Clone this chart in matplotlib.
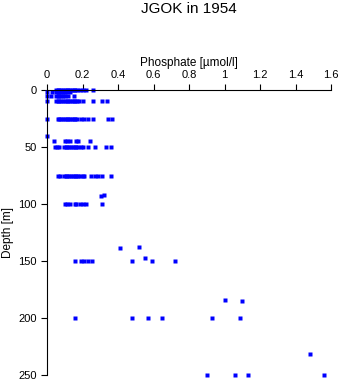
import numpy as np
import matplotlib
matplotlib.use("Agg")
import matplotlib.pyplot as plt
from matplotlib.ticker import FuncFormatter

plt.rcParams['font.family'] = ['Liberation Sans', 'DejaVu Sans']

# phosphate readings [umol/l] grouped by sampling depth [m]
d0 = [0.05, 0.06, 0.07, 0.08, 0.09, 0.10, 0.11, 0.12, 0.13, 0.14, 0.15, 0.16,
      0.17, 0.185, 0.20, 0.22, 0.26]
d2 = [0.0, 0.03, 0.05, 0.06, 0.07, 0.08, 0.09, 0.10, 0.11, 0.13]
d5 = [0.0, 0.02, 0.05, 0.06, 0.07, 0.08, 0.09, 0.10, 0.12, 0.15]
d10 = [0.0, 0.05, 0.06, 0.07, 0.08, 0.09, 0.10, 0.11, 0.12, 0.13, 0.14, 0.15,
       0.16, 0.17, 0.18, 0.20, 0.26, 0.31, 0.34]
d25 = [0.0, 0.06, 0.07, 0.08, 0.09, 0.10, 0.11, 0.12, 0.13, 0.14, 0.15, 0.16,
       0.17, 0.19, 0.21, 0.23, 0.26, 0.345, 0.365]
d40 = [0.0]
d45 = [0.04, 0.10, 0.11, 0.13, 0.165, 0.175, 0.24]
d50 = [0.045, 0.055, 0.065, 0.095, 0.105, 0.115, 0.125, 0.135, 0.145, 0.155,
       0.165, 0.175, 0.19, 0.20, 0.23, 0.27, 0.33, 0.36]
d75 = [0.06, 0.075, 0.095, 0.105, 0.115, 0.125, 0.135, 0.145, 0.155, 0.165,
       0.175, 0.185, 0.20, 0.21, 0.25, 0.27, 0.29, 0.31, 0.36]
d92 = [0.32]
d93 = [0.305]
d100 = [0.10, 0.11, 0.13, 0.155, 0.165, 0.185, 0.20, 0.22, 0.31]
d137 = [0.52]
d139 = [0.41]
d147 = [0.55]
d150 = [0.155, 0.19, 0.21, 0.23, 0.255, 0.48, 0.59, 0.72]
d184 = [1.00]
d185 = [1.10]
d200 = [0.16, 0.48, 0.57, 0.65, 0.93, 1.09]
d232 = [1.48]
d250 = [0.90, 1.06, 1.13, 1.56]

groups = [(0, d0), (2, d2), (5, d5), (10, d10), (25, d25), (40, d40),
          (45, d45), (50, d50), (75, d75), (92, d92), (93, d93), (100, d100),
          (137.5, d137), (139, d139), (147, d147), (150, d150), (184, d184),
          (185, d185), (200, d200), (232, d232), (250, d250)]

x = np.concatenate([v for _, v in groups])
y = np.concatenate([[d] * len(v) for d, v in groups])

fig = plt.figure(figsize=(3.43, 3.84), dpi=100)
ax = fig.add_axes([47 / 343, 1 - 375 / 384, 284 / 343, 285 / 384])

ax.plot(x, y, 's', color='blue', ms=2.2, mec='none', clip_on=False)

ax.set_xlim(0, 1.6)
ax.set_ylim(250, 0)
ax.set_xticks(np.arange(0, 1.61, 0.2))
ax.set_yticks(np.arange(0, 251, 50))
ax.xaxis.set_major_formatter(FuncFormatter(lambda v, p: '%g' % round(v, 1)))
ax.xaxis.tick_top()
ax.xaxis.set_label_position('top')
ax.spines['right'].set_visible(False)
ax.spines['bottom'].set_visible(False)
for s in ('top', 'left'):
    ax.spines[s].set_linewidth(0.8)
ax.tick_params(length=4.3, width=0.8, pad=3, labelsize=8)

ax.set_xlabel('Phosphate [µmol/l]', fontsize=8.5, labelpad=3)
ax.set_ylabel('Depth [m]', fontsize=8.5, labelpad=3)
fig.text(189 / 343, 1 - 9 / 384, 'JGOK in 1954', ha='center', va='center',
         fontsize=11)

fig.savefig('out.png', dpi=100)
